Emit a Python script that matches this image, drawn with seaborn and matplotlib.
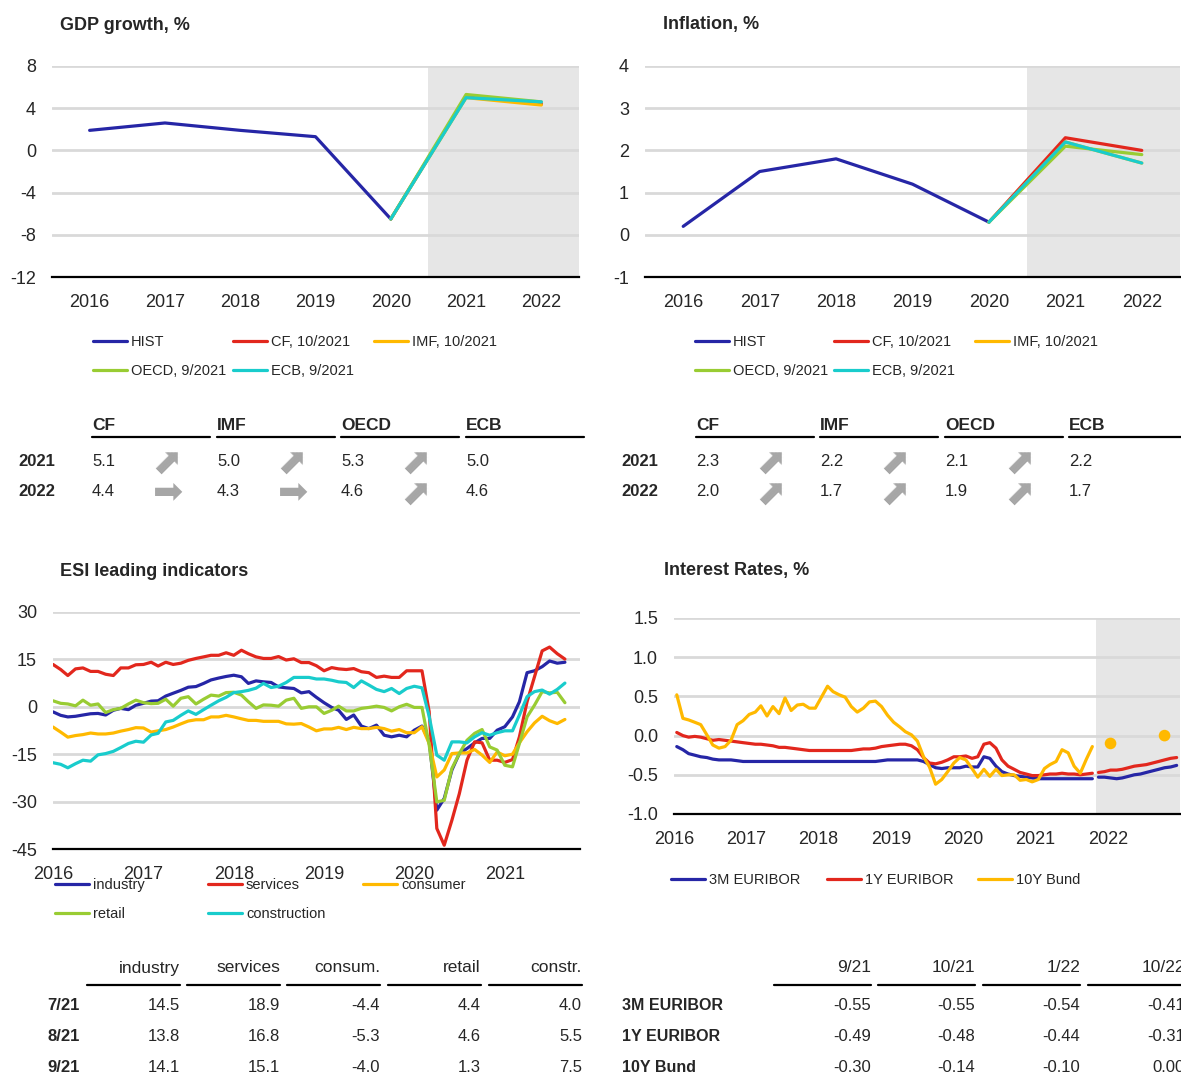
import pandas as pd
import seaborn as sns
import matplotlib.pyplot as plt
import matplotlib.dates as mdates
from matplotlib.lines import Line2D

# =========================
# data
# =========================
years = [2016, 2017, 2018, 2019, 2020, 2021, 2022]
gdp_hist = [1.9, 2.6, 1.9, 1.3, -6.5]
infl_hist = [0.2, 1.5, 1.8, 1.2, 0.3]

institutions = ["CF", "IMF", "OECD", "ECB"]
inst_labels = ["CF, 10/2021", "IMF, 10/2021", "OECD, 9/2021", "ECB, 9/2021"]
gdp_2021 = [5.1, 5.0, 5.3, 5.0]
gdp_2022 = [4.4, 4.3, 4.6, 4.6]
infl_2021 = [2.3, 2.2, 2.1, 2.2]
infl_2022 = [2.0, 1.7, 1.9, 1.7]
# revision direction (CF, IMF, OECD)
gdp_arrows_2021 = ["up", "up", "up"]
gdp_arrows_2022 = ["flat", "flat", "up"]
infl_arrows_2021 = ["up", "up", "up"]
infl_arrows_2022 = ["up", "up", "up"]

# ESI monthly, 1/2016 - 9/2021
esi_names = ["industry", "services", "consumer", "retail", "construction"]
industry = [
    -1.6, -2.7, -3.2, -3.0, -2.6, -2.2, -2.1, -2.6, -1.1, -0.5, -0.9, 0.5,
    1.1, 1.8, 1.9, 3.4, 4.3, 5.2, 6.2, 6.4, 7.4, 8.5, 9.1, 9.6,
    10.0, 9.5, 7.4, 8.2, 7.9, 7.7, 6.3, 6.0, 5.8, 4.4, 4.8, 3.0,
    1.3, -0.2, -1.1, -4.0, -2.6, -6.1, -6.9, -5.8, -9.0, -9.5, -9.0, -9.5,
    -7.4, -6.1, -10.8, -32.7, -29.0, -20.0, -14.8, -13.2, -11.4, -10.0, -10.0, -7.4,
    -6.3, -3.2, 1.6, 10.8, 11.4, 12.7, 14.5, 13.8, 14.1]
services = [
    13.4, 11.8, 9.9, 12.0, 12.3, 11.2, 11.2, 10.3, 9.9, 12.3, 12.3, 13.3,
    13.4, 14.1, 12.9, 14.1, 13.4, 13.8, 14.7, 15.3, 15.8, 16.3, 16.3, 17.1,
    16.3, 17.9, 16.8, 15.8, 15.3, 15.3, 15.9, 14.8, 15.2, 14.0, 14.0, 13.0,
    11.4, 12.4, 12.0, 11.8, 12.1, 11.1, 10.8, 9.3, 9.7, 9.3, 9.3, 11.4,
    11.4, 11.4, -1.5, -38.5, -43.8, -35.9, -27.5, -16.9, -11.1, -11.4, -16.9, -16.9,
    -17.6, -16.7, -9.5, 1.6, 9.5, 17.7, 18.9, 16.8, 15.1]
consumer = [
    -6.4, -8.0, -9.6, -9.1, -8.8, -8.3, -8.6, -8.6, -8.3, -7.7, -7.2, -6.6,
    -6.7, -8.0, -7.6, -7.2, -6.4, -5.4, -4.5, -4.1, -4.1, -3.2, -3.2, -2.7,
    -3.2, -3.8, -4.3, -4.3, -4.6, -4.6, -4.6, -5.4, -5.5, -5.3, -6.4, -7.6,
    -7.0, -7.0, -6.5, -7.2, -6.5, -6.9, -6.9, -6.5, -6.9, -7.7, -7.2, -8.2,
    -8.2, -6.3, -11.6, -22.2, -20.0, -14.8, -14.6, -14.6, -13.5, -15.3, -17.6, -14.3,
    -15.5, -15.0, -11.4, -7.9, -5.1, -3.0, -4.4, -5.3, -4.0]
retail = [
    1.9, 1.1, 0.9, 0.3, 2.1, 0.5, 0.9, -1.8, -0.9, -0.5, 0.9, 2.1,
    1.3, 1.0, 1.1, 2.4, 0.2, 2.7, 3.2, 0.9, 2.4, 3.7, 3.4, 4.5,
    4.6, 3.7, 1.6, -0.5, 0.6, 0.5, 0.2, 2.1, 2.7, -0.5, 0.0, 0.0,
    -2.1, -1.1, 0.2, -1.3, -1.3, -0.5, -0.2, 0.2, -0.2, -1.3, 0.0, 0.8,
    -0.2, -0.2, -12.0, -30.1, -29.6, -19.5, -14.8, -10.6, -8.4, -7.2, -12.7, -13.7,
    -18.5, -19.0, -11.6, -3.2, 0.5, 4.8, 4.4, 4.6, 1.3]
construction = [
    -17.7, -18.2, -19.3, -18.0, -16.9, -17.2, -15.2, -14.8, -14.1, -12.9, -11.6, -10.9,
    -11.2, -8.9, -8.4, -4.8, -4.3, -2.7, -1.3, -2.4, -0.9, 0.5, 1.9, 3.0,
    4.5, 4.8, 5.2, 5.9, 7.4, 6.1, 6.5, 7.7, 9.3, 9.3, 9.3, 8.8,
    8.8, 8.4, 7.9, 7.7, 6.1, 8.2, 6.9, 5.5, 4.8, 5.8, 4.2, 5.8,
    6.5, 6.0, -3.0, -15.3, -16.9, -11.1, -11.1, -11.4, -9.5, -8.2, -9.0, -8.2,
    -7.6, -7.6, -2.6, 3.2, 4.8, 5.3, 4.0, 5.5, 7.5]
esi_cols = ["industry", "services", "consum.", "retail", "constr."]
esi_rows = ["7/21", "8/21", "9/21"]

# interest rates monthly, 1/2016 - 10/2021, forecasts 11/2021 - 12/2022
ir_names = ["3M EURIBOR", "1Y EURIBOR", "10Y Bund"]
euribor3m = [
    -0.14, -0.18, -0.23, -0.25, -0.27, -0.28, -0.30, -0.31, -0.31, -0.31, -0.32, -0.33,
    -0.33, -0.33, -0.33, -0.33, -0.33, -0.33, -0.33, -0.33, -0.33, -0.33, -0.33, -0.33,
    -0.33, -0.33, -0.33, -0.33, -0.33, -0.33, -0.33, -0.33, -0.33, -0.33, -0.32, -0.31,
    -0.31, -0.31, -0.31, -0.31, -0.31, -0.33, -0.37, -0.41, -0.42, -0.41, -0.41, -0.41,
    -0.39, -0.40, -0.40, -0.27, -0.29, -0.39, -0.46, -0.49, -0.51, -0.52, -0.53, -0.54,
    -0.55, -0.55, -0.55, -0.55, -0.55, -0.55, -0.55, -0.55, -0.55, -0.55]
euribor1y = [
    0.04, 0.00, -0.02, -0.01, -0.02, -0.04, -0.06, -0.05, -0.06, -0.07, -0.08, -0.09,
    -0.10, -0.11, -0.11, -0.12, -0.13, -0.15, -0.15, -0.16, -0.17, -0.18, -0.19, -0.19,
    -0.19, -0.19, -0.19, -0.19, -0.19, -0.19, -0.18, -0.17, -0.17, -0.16, -0.14, -0.13,
    -0.12, -0.11, -0.11, -0.13, -0.18, -0.28, -0.35, -0.36, -0.34, -0.31, -0.27, -0.27,
    -0.26, -0.29, -0.27, -0.11, -0.09, -0.16, -0.31, -0.39, -0.43, -0.47, -0.49, -0.51,
    -0.51, -0.50, -0.49, -0.49, -0.48, -0.49, -0.49, -0.50, -0.49, -0.48]
bund10y = [
    0.52, 0.22, 0.20, 0.17, 0.14, 0.01, -0.12, -0.16, -0.14, -0.06, 0.14, 0.19,
    0.27, 0.30, 0.38, 0.25, 0.37, 0.28, 0.48, 0.32, 0.39, 0.40, 0.35, 0.35,
    0.49, 0.63, 0.56, 0.52, 0.49, 0.37, 0.30, 0.35, 0.43, 0.44, 0.37, 0.26,
    0.17, 0.11, 0.05, 0.01, -0.07, -0.27, -0.40, -0.62, -0.56, -0.46, -0.35, -0.28,
    -0.31, -0.42, -0.53, -0.43, -0.52, -0.43, -0.51, -0.50, -0.50, -0.57, -0.56, -0.59,
    -0.56, -0.42, -0.37, -0.33, -0.18, -0.22, -0.39, -0.48, -0.30, -0.14]
euribor3m_fc = [-0.53, -0.53, -0.54, -0.55, -0.54, -0.52, -0.50, -0.49, -0.47, -0.45, -0.43, -0.41, -0.40, -0.38]
euribor1y_fc = [-0.47, -0.46, -0.44, -0.44, -0.43, -0.41, -0.39, -0.38, -0.37, -0.35, -0.33, -0.31, -0.29, -0.28]
bund_fc_months = ["2022-01", "2022-10"]
bund10y_fc = [-0.10, 0.00]
ir_cols = ["9/21", "10/21", "1/22", "10/22"]
ir_col_months = ["2021-09", "2021-10", "2022-01", "2022-10"]

# =========================
# style
# =========================
BLUE = "#2626a6"
RED = "#e2271d"
GOLD = "#ffb900"
GREEN = "#99cc33"
CYAN = "#19cccc"
SHADE = "#e6e6e6"
GRID = "#d9d9d9"
ARROW = "#a6a6a6"
LW = 2.3
inst_colors = [RED, GOLD, GREEN, CYAN]
esi_colors = [BLUE, RED, GOLD, GREEN, CYAN]
ir_colors = [BLUE, RED, GOLD]

sns.set_style("white")
plt.rcParams["font.family"] = ["Liberation Sans", "DejaVu Sans"]
plt.rcParams["axes.unicode_minus"] = False

W, H = 1181, 1077
fig = plt.figure(figsize=(W / 100, H / 100), dpi=100)


def fx(px):
    return px / W


def fy(py):
    return 1 - py / H


def add_ax(x0, y0, x1, y1):
    return fig.add_axes([fx(x0), fy(y1), fx(x1) - fx(x0), fy(y0) - fy(y1)])


def txt(x, y, s, **kw):
    kw.setdefault("va", "center")
    kw.setdefault("fontsize", 12)
    fig.text(fx(x), fy(y), s, **kw)


def hline(x0, x1, y):
    fig.add_artist(Line2D([fx(x0), fx(x1)], [fy(y), fy(y)], transform=fig.transFigure,
                          color="black", lw=1.6))


def style_ax(ax, ylim, yticks, fmt):
    ax.set_ylim(*ylim)
    ax.set_yticks(yticks)
    ax.set_yticklabels([fmt.format(v) for v in yticks])
    ax.yaxis.grid(True, color=GRID, lw=2)
    ax.xaxis.grid(False)
    ax.set_axisbelow(True)
    for s in ["left", "right", "top"]:
        ax.spines[s].set_visible(False)
    ax.spines["bottom"].set_color("black")
    ax.spines["bottom"].set_linewidth(1.6)
    ax.tick_params(axis="y", length=0, pad=11.5, labelsize=13)
    ax.set_xlabel("")
    ax.set_ylabel("")


def year_axis(ax, first, last, labelled_last):
    ticks = [pd.Timestamp(f"{y}-01-01") for y in range(first, last + 1)]
    ax.set_xlim(ticks[0], pd.Timestamp(f"{last}-01-01") if last == labelled_last + 1 else None)
    ax.set_xticks(ticks)
    ax.set_xticklabels([str(y) if y <= labelled_last else "" for y in range(first, last + 1)])
    ax.tick_params(axis="x", length=4.5, width=1.6, color="black", direction="out",
                   pad=7.5, labelsize=13)


def legend_columns(columns, xs, top):
    # one legend per column so columns sit at fixed places (like Excel)
    for col, x in zip(columns, xs):
        handles = [Line2D([], [], color=c, lw=LW) for _, c in col]
        fig.legend(handles, [l for l, _ in col], loc="upper left",
                   bbox_to_anchor=(fx(x), fy(top)), bbox_transform=fig.transFigure,
                   frameon=False, fontsize=10.5, handlelength=2.35, handletextpad=0.25,
                   labelspacing=1.05, borderpad=0, borderaxespad=0)


# =========================
# top panels: GDP / inflation
# =========================
def top_panel(x0, x1, hist, f2021, f2022, ylim, yticks, title, title_x):
    ax = add_ax(x0, 66, x1, 277)
    ax.axvspan(2020.5, 2022.5, color=SHADE, lw=0, zorder=0.2)
    sns.lineplot(x=years[:len(hist)], y=hist, color=BLUE, lw=LW, ax=ax)
    for col, a, b in zip(inst_colors, f2021, f2022):
        sns.lineplot(x=years[len(hist) - 1:], y=[hist[-1], a, b], color=col, lw=LW, ax=ax)
    style_ax(ax, ylim, yticks, "{:g}")
    ax.set_xlim(years[0] - 0.5, years[-1] + 0.5)
    ax.set_xticks(years)
    ax.set_xticklabels([str(y) for y in years])
    ax.set_xticks([y - 0.5 for y in years] + [years[-1] + 0.5], minor=True)
    ax.tick_params(axis="x", which="major", length=0, pad=12.5, labelsize=13)
    ax.tick_params(axis="x", which="minor", length=4.5, width=1.6, color="black", direction="out")
    txt(title_x, 25, title, fontsize=13, fontweight="bold")
    return ax


top_panel(52, 579, gdp_hist, gdp_2021, gdp_2022, (-12, 8), [-12, -8, -4, 0, 4, 8],
          "GDP growth, %", 60)
top_panel(645, 1180, infl_hist, infl_2021, infl_2022, (-1, 4), [-1, 0, 1, 2, 3, 4],
          "Inflation, %", 663)

top_entries = [("HIST", BLUE)] + list(zip(inst_labels, inst_colors))
top_cols = [[top_entries[0], top_entries[3]], [top_entries[1], top_entries[4]], [top_entries[2]]]
legend_columns(top_cols, [93, 233, 374], 335)
legend_columns(top_cols, [695, 834, 975], 335)


def forecast_table(x_cols, x_label, v2021, v2022, a2021, a2022):
    for name, x in zip(institutions, x_cols):
        txt(x, 425, name, fontsize=12.5, fontweight="bold")
        hline(x, x + 118, 437)
    for y, lab, vals, arrows in [(461, "2021", v2021, a2021), (492, "2022", v2022, a2022)]:
        txt(x_label, y, lab, fontweight="bold")
        for x, v in zip(x_cols, vals):
            txt(x, y, f"{v:.1f}")
        for x, a in zip(x_cols, arrows):
            txt(x + 76, y, "\u27a1", ha="center", fontsize=26, color=ARROW,
                rotation=45 if a == "up" else 0, rotation_mode="anchor",
                family=["DejaVu Sans"])


forecast_table([92, 217, 341, 466], 18, gdp_2021, gdp_2022, gdp_arrows_2021, gdp_arrows_2022)
forecast_table([696, 820, 945, 1069], 621, infl_2021, infl_2022, infl_arrows_2021, infl_arrows_2022)

# =========================
# ESI leading indicators
# =========================
esi_dates = pd.date_range("2016-01-01", periods=len(industry), freq="MS")
esi_df = pd.DataFrame({"date": esi_dates, "industry": industry, "services": services,
                       "consumer": consumer, "retail": retail, "construction": construction})
esi_long = esi_df.melt(id_vars="date", var_name="series", value_name="value")

ax3 = add_ax(53, 612, 580, 849)
sns.lineplot(data=esi_long, x="date", y="value", hue="series", hue_order=esi_names,
             palette=esi_colors, lw=LW, legend=False, ax=ax3)
style_ax(ax3, (-45, 30), [-45, -30, -15, 0, 15, 30], "{:g}")
year_axis(ax3, 2016, 2021, 2021)
ax3.set_xlim(pd.Timestamp("2016-01-01"), pd.Timestamp("2021-11-01"))
txt(60, 571, "ESI leading indicators", fontsize=13, fontweight="bold")

esi_entries = list(zip(esi_names, esi_colors))
legend_columns([[esi_entries[0], esi_entries[3]], [esi_entries[1], esi_entries[4]], [esi_entries[2]]],
               [55, 208, 363], 878)

esi_right = [180, 280, 380, 481, 582]
for name, x in zip(esi_cols, esi_right):
    txt(x, 968, name, ha="right", fontsize=12.5)
    hline(x - 93, x, 985)
for i, lab in enumerate(esi_rows):
    y = 1005 + i * 31.5
    txt(47, y, lab, fontweight="bold")
    for series, x in zip([industry, services, consumer, retail, construction], esi_right):
        txt(x, y, f"{series[len(series) - 3 + i]:.1f}", ha="right")

# =========================
# Interest rates
# =========================
offset = pd.Timedelta(days=14)
ir_dates = pd.date_range("2016-01-01", periods=len(euribor3m), freq="MS") + offset
fc_dates = pd.date_range("2021-11-01", periods=len(euribor3m_fc), freq="MS") + offset
bund_fc_dates = pd.PeriodIndex(bund_fc_months, freq="M").to_timestamp() + offset

ir_df = pd.DataFrame({"date": ir_dates, "3M EURIBOR": euribor3m, "1Y EURIBOR": euribor1y,
                      "10Y Bund": bund10y}).melt(id_vars="date", var_name="series", value_name="value")
fc_df = pd.DataFrame({"date": fc_dates, "3M EURIBOR": euribor3m_fc,
                      "1Y EURIBOR": euribor1y_fc}).melt(id_vars="date", var_name="series", value_name="value")

ax4 = add_ax(674, 618, 1180, 814)
ax4.axvspan(pd.Timestamp("2021-11-01"), pd.Timestamp("2023-01-01"), color=SHADE, lw=0, zorder=0.2)
sns.lineplot(data=ir_df, x="date", y="value", hue="series", hue_order=ir_names,
             palette=ir_colors, lw=LW, legend=False, ax=ax4)
sns.lineplot(data=fc_df, x="date", y="value", hue="series", hue_order=ir_names[:2],
             palette=ir_colors[:2], lw=LW, legend=False, ax=ax4)
sns.scatterplot(x=bund_fc_dates, y=bund10y_fc, color=GOLD, s=70, edgecolor="none", ax=ax4)
style_ax(ax4, (-1.0, 1.5), [-1.0, -0.5, 0.0, 0.5, 1.0, 1.5], "{:.1f}")
year_axis(ax4, 2016, 2023, 2022)
ax4.set_xlim(pd.Timestamp("2016-01-01"), pd.Timestamp("2023-01-01"))
txt(664, 571, "Interest Rates, %", fontsize=13, fontweight="bold")

ir_entries = list(zip(ir_names, ir_colors))
legend_columns([[e] for e in ir_entries], [671, 827, 978], 873)

# table of rates
all_idx = ir_dates.append(fc_dates).to_period("M")
ir_table = {
    "3M EURIBOR": pd.Series(euribor3m + euribor3m_fc, index=all_idx),
    "1Y EURIBOR": pd.Series(euribor1y + euribor1y_fc, index=all_idx),
    "10Y Bund": pd.Series(bund10y + bund10y_fc,
                          index=ir_dates.append(bund_fc_dates).to_period("M")),
}
ir_right = [871, 975, 1080, 1185]
for name, x in zip(ir_cols, ir_right):
    txt(x, 968, name, ha="right", fontsize=12.5)
    hline(x - 97, x, 985)
for i, name in enumerate(ir_names):
    y = 1005 + i * 31.5
    txt(622, y, name, fontweight="bold", fontsize=11.5)
    for m, x in zip(ir_col_months, ir_right):
        txt(x, y, f"{ir_table[name][pd.Period(m, freq='M')]:.2f}", ha="right")

fig.savefig("out.png", dpi=100)
